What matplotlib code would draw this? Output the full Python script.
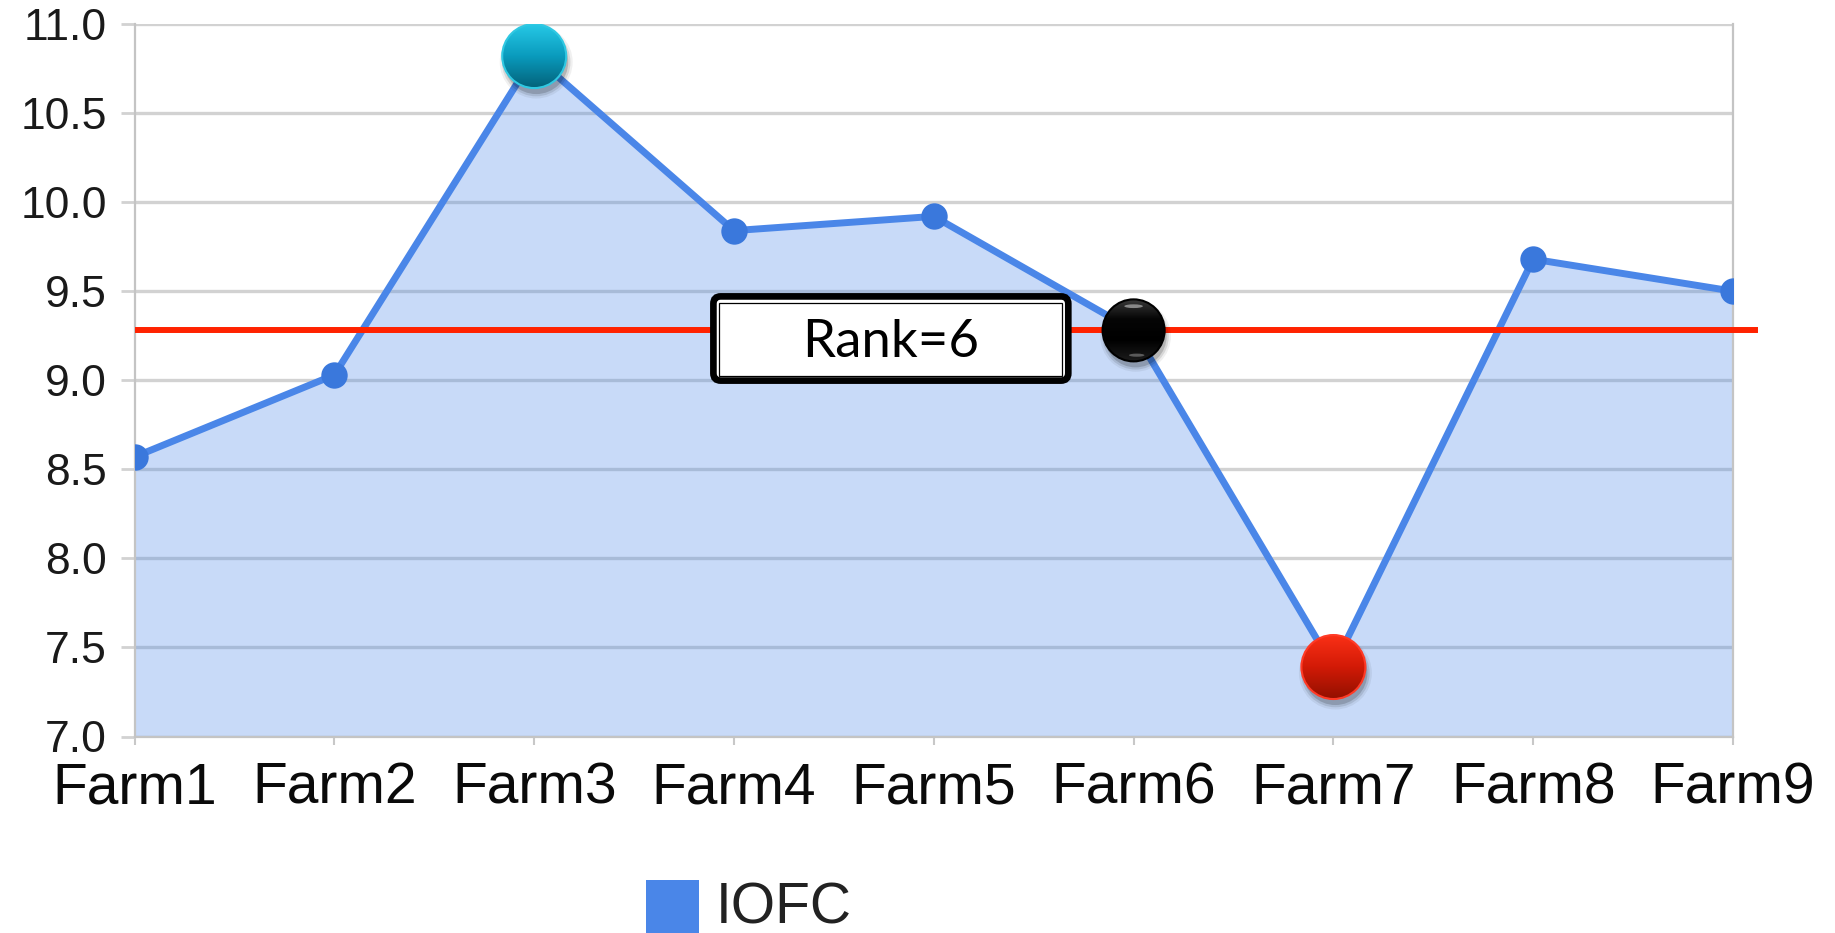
# -*- coding: utf-8 -*-
# IOFC per farm, area chart with rank marker

import numpy as np
import matplotlib
matplotlib.use('Agg')
import matplotlib.pyplot as plt
from matplotlib.patches import Ellipse, FancyBboxPatch, Rectangle
from matplotlib.colors import LinearSegmentedColormap


#%% Data

farms = ['Farm1', 'Farm2', 'Farm3', 'Farm4', 'Farm5',
         'Farm6', 'Farm7', 'Farm8', 'Farm9']
iofc = [8.57, 9.03, 10.82, 9.84, 9.92, 9.28, 7.39, 9.68, 9.50]
y_ticks = [7.0, 7.5, 8.0, 8.5, 9.0, 9.5, 10.0, 10.5, 11.0]
rank_farm = 'Farm6'
rank_label = 'Rank=6'
series_name = 'IOFC'


#%% Constants

W_PX, H_PX = 1835, 933
DPI = 100
XLIM = (0, len(farms) - 1)
YLIM = (y_ticks[0], y_ticks[-1])
BLUE = '#4a86e8'


def glossy_ball(ax, xi, yv, colors, edge, r_px=32, z=6, shine=False):
    '''Draw a shaded ball of r_px pixels centred on a data point.'''
    pos = ax.get_position()
    ux = pos.width * W_PX / (XLIM[1] - XLIM[0])
    uy = pos.height * H_PX / (YLIM[1] - YLIM[0])
    rx, ry = r_px / ux, r_px / uy

    # soft drop shadow
    for k, a in ((1.14, 0.06), (1.07, 0.10), (1.0, 0.16)):
        ax.add_patch(Ellipse((xi + 2 / ux, yv - 6 / uy), 2 * rx * k,
                             2 * ry * k, color='black', alpha=a, lw=0,
                             zorder=z))

    cmap = LinearSegmentedColormap.from_list('ball', colors)
    im = ax.imshow(np.linspace(0, 1, 128).reshape(-1, 1), cmap=cmap,
                   extent=(xi - rx, xi + rx, yv - ry, yv + ry),
                   aspect='auto', origin='upper', zorder=z + 1,
                   interpolation='bicubic')
    rim = Ellipse((xi, yv), 2 * rx, 2 * ry, fc='none', ec=edge, lw=1.5,
                  zorder=z + 2)
    ax.add_patch(rim)
    im.set_clip_path(rim)

    if shine:
        ax.add_patch(Ellipse((xi, yv + 0.78 * ry), 0.6 * rx, 0.12 * ry,
                             color='white', alpha=0.45, lw=0, zorder=z + 3))
        ax.add_patch(Ellipse((xi + 0.1 * rx, yv - 0.8 * ry), 0.5 * rx,
                             0.1 * ry, color='white', alpha=0.3, lw=0,
                             zorder=z + 3))


#%% Figure

plt.rcParams['font.family'] = ['Liberation Sans', 'DejaVu Sans']

fig = plt.figure(figsize=(W_PX / DPI, H_PX / DPI), dpi=DPI)
ax = fig.add_axes([134.6 / W_PX, (H_PX - 736.5) / H_PX,
                   (1733 - 134.6) / W_PX, 712.5 / H_PX])

x = np.arange(len(farms))

ax.fill_between(x, iofc, YLIM[0], color=BLUE, alpha=0.3, lw=0, zorder=2)
ax.plot(x, iofc, color=BLUE, lw=5, zorder=3, solid_capstyle='round')
ax.plot(x, iofc, 'o', color='#3a78dc', ms=19, mec='none', zorder=4)

# rank reference line at the ranked farm's value
rank_idx = farms.index(rank_farm)
ax.axhline(iofc[rank_idx], xmin=0.002, xmax=1.014, color='#ff2200',
           lw=4.3, zorder=5, clip_on=False)

ax.set_xlim(*XLIM)
ax.set_ylim(*YLIM)
ax.set_xticks(x)
ax.set_xticklabels(farms)
ax.set_yticks(y_ticks)
ax.set_yticklabels([f'{v:.1f}' for v in y_ticks])

ax.set_axisbelow(True)
ax.yaxis.grid(True, color='#d2d2d2', lw=2.4, zorder=0)
ax.tick_params(axis='y', labelsize=32, length=10, width=2,
               color='#d2d2d2', pad=10, labelcolor='#1a1a1a')
ax.tick_params(axis='x', labelsize=41, length=6, width=1.5,
               color='#c8c8c8', pad=12, labelcolor='#0a0a0a')
for side in ('left', 'right', 'bottom', 'top'):
    ax.spines[side].set_color('#c4c4c4')
    ax.spines[side].set_linewidth(1.6)
ax.spines['top'].set_visible(False)

# highlighted points: max, min and ranked farm
i_max = int(np.argmax(iofc))
i_min = int(np.argmin(iofc))
glossy_ball(ax, i_max, iofc[i_max], ['#26c8e6', '#0a9bbd', '#03627a'],
            '#30c8e2')
glossy_ball(ax, i_min, iofc[i_min], ['#fa3016', '#d21a06', '#921000'],
            '#ff3a26')
glossy_ball(ax, rank_idx, iofc[rank_idx], ['#3c3c3c', '#050505', '#000000',
                                            '#1c1c1c'],
            '#000000', r_px=31, z=9, shine=True)
ax.set_xlim(*XLIM)
ax.set_ylim(*YLIM)

# rank label box (double border)
outer = FancyBboxPatch((713.4 / W_PX, (H_PX - 380.6) / H_PX),
                       (1068.3 - 713.4) / W_PX, (380.6 - 296.4) / H_PX,
                       boxstyle='round,pad=0,rounding_size=0.004',
                       mutation_aspect=W_PX / H_PX,
                       transform=fig.transFigure, fc='white', ec='black',
                       lw=4.8, zorder=10)
inner = Rectangle((719 / W_PX, (H_PX - 375.5) / H_PX),
                  (1062 - 719) / W_PX, (375.5 - 302.5) / H_PX,
                  transform=fig.transFigure, fc='none', ec='black',
                  lw=0.9, zorder=11)
fig.patches.extend([outer, inner])
fig.text(891 / W_PX, (H_PX - 357) / H_PX, rank_label, ha='center',
         va='baseline', fontsize=38, family=['Lato', 'DejaVu Sans'],
         color='black', zorder=12)

# legend
fig.patches.append(Rectangle((646 / W_PX, 0), 53 / W_PX, 53 / H_PX,
                             transform=fig.transFigure, fc=BLUE, ec='none'))
fig.text(716 / W_PX, 9 / H_PX, series_name, ha='left', va='baseline',
         fontsize=41, color='#222222')

plt.savefig('out.png', dpi=DPI)
